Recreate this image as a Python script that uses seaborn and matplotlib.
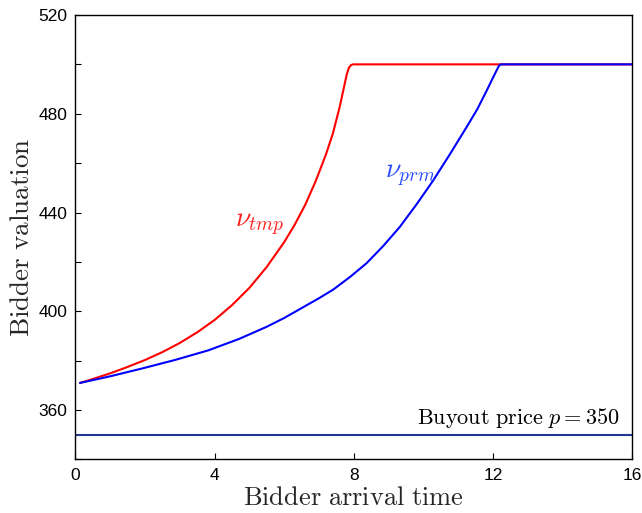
import numpy as np
import pandas as pd
import matplotlib
matplotlib.use("Agg")
import matplotlib.pyplot as plt
import seaborn as sns
from matplotlib.ticker import MultipleLocator

# ---- data ----
tmp_t = [0.13, 0.5, 1.0, 1.5, 2.0, 2.5, 3.0, 3.5, 4.0, 4.5, 5.0, 5.5, 6.0, 6.3, 6.6, 6.9,
         7.2, 7.4, 7.6, 7.7, 7.8, 7.86, 7.92, 7.98, 16.0]
tmp_v = [371.0, 372.6, 374.9, 377.5, 380.3, 383.5, 387.2, 391.5, 396.5, 402.5, 409.5, 418.0,
         428.0, 435.0, 443.0, 452.5, 463.5, 472.0, 483.0, 489.5, 496.0, 498.6, 499.7, 500.0, 500.0]

prm_t = [0.13, 1.0, 1.9, 2.86, 3.82, 4.7, 5.49, 6.0, 6.5, 7.0, 7.41, 7.9, 8.37, 8.85, 9.32,
         9.8, 10.28, 10.76, 11.24, 11.55, 11.82, 12.0, 12.17, 12.22, 16.0]
prm_v = [371.0, 373.7, 376.8, 380.3, 384.2, 388.8, 393.7, 397.3, 401.3, 405.3, 408.8, 414.0,
         419.5, 426.5, 434.1, 443.2, 452.9, 463.5, 474.5, 481.8, 489.3, 494.5, 499.3, 500.0, 500.0]

buy_t = [0.0, 16.0]
buy_v = [350.0, 350.0]

x_ticks = [0, 4, 8, 12, 16]
y_ticks = [360, 400, 440, 480, 520]

sns.set_theme(style="white")
plt.rcParams['font.family'] = ['Liberation Sans', 'DejaVu Sans']
plt.rcParams['mathtext.fontset'] = 'cm'

fig = plt.figure(figsize=(6.42, 5.13), dpi=100)
ax = fig.add_axes([0.1176, 0.1043, 0.8668, 0.8665])

df_tmp = pd.DataFrame({"t": tmp_t, "v": tmp_v})
df_prm = pd.DataFrame({"t": prm_t, "v": prm_v})
df_buy = pd.DataFrame({"t": buy_t, "v": buy_v})

sns.lineplot(data=df_buy, x="t", y="v", color="#23378f", lw=1.5, estimator=None, sort=False, ax=ax)
sns.lineplot(data=df_tmp, x="t", y="v", color="#ff0000", lw=1.5, estimator=None, sort=False, ax=ax)
sns.lineplot(data=df_prm, x="t", y="v", color="#0000ff", lw=1.5, estimator=None, sort=False, ax=ax)

ax.set_xlim(0, 16)
ax.set_ylim(340, 520)
ax.set_xticks(x_ticks)
ax.set_yticks(y_ticks)
ax.yaxis.set_minor_locator(MultipleLocator(20))
ax.tick_params(axis='both', which='both', direction='in', top=False, right=False,
               bottom=True, left=True, labelsize=12.5, colors='black', length=4, width=0.8)
ax.tick_params(axis='both', which='major', pad=6)

for s in ax.spines.values():
    s.set_color('black')
    s.set_linewidth(1.0)

ax.set_xlabel(r'$\mathrm{Bidder\ arrival\ time}$', fontsize=19, labelpad=2)
ax.set_ylabel(r'$\mathrm{Bidder\ valuation}$', fontsize=19.5, labelpad=2)

ax.text(5.3, 434.8, r'$\nu_{tmp}$', color='#ff2020', fontsize=20, ha='center', va='center')
ax.text(9.64, 455.0, r'$\nu_{prm}$', color='#2a4bff', fontsize=20, ha='center', va='center')
ax.text(15.65, 357.0, r'$\mathrm{Buyout\ price}\ p = 350$', color='black', fontsize=16, ha='right', va='center')

fig.savefig("out.png", dpi=100)
